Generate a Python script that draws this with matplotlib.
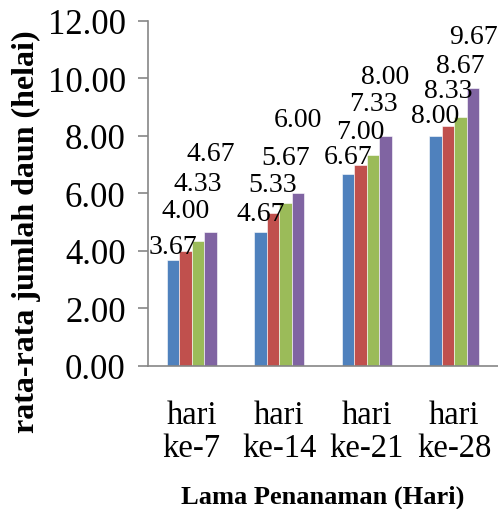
import numpy as np
import matplotlib.pyplot as plt

plt.rcParams['font.family'] = ['Liberation Serif', 'DejaVu Serif']

# data
categories = ["hari\nke-7", "hari\nke-14", "hari\nke-21", "hari\nke-28"]
series_1 = [3.67, 4.67, 6.67, 8.00]
series_2 = [4.00, 5.33, 7.00, 8.33]
series_3 = [4.33, 5.67, 7.33, 8.67]
series_4 = [4.67, 6.00, 8.00, 9.67]
yticks = [0, 2, 4, 6, 8, 10, 12]

colors = ['#4F81BD', '#C0504D', '#9BBB59', '#8064A2']
# label lift above each bar (points), moved by hand in the original
label_lift = [[9, 12, 12, 14],
              [28, 19, 23, 25],
              [41, 32, 36, 36],
              [55, 52, 42, 36]]

fig = plt.figure(figsize=(4.98, 5.10), dpi=100)
ax = fig.add_axes([0.297, 0.2804, 0.703, 0.6766])

x = np.arange(len(categories))
w = 0.143
all_series = [series_1, series_2, series_3, series_4]
for i, vals in enumerate(all_series):
    pos = x + (i - 1.5) * w
    ax.bar(pos, vals, width=w, color=colors[i], edgecolor='white', linewidth=0.4, zorder=2)
    for j, (px, v) in enumerate(zip(pos, vals)):
        ax.annotate(f"{v:.2f}", (px, v), xytext=(0, label_lift[i][j] + 1),
                    textcoords='offset points', ha='center', va='center',
                    fontsize=20, zorder=3)

ax.set_xlim(-0.5, 3.5)
ax.set_ylim(0, 12)
ax.set_yticks(yticks)
ax.set_yticklabels([f"{t:.2f}" for t in yticks], fontsize=25)
ax.set_xticks(x)
ax.set_xticklabels(categories, fontsize=23.5, linespacing=1.1)
ax.tick_params(axis='x', length=0, pad=24)
ax.tick_params(axis='y', length=7, width=1.2, color='#868686', pad=9)

for s in ['top', 'right']:
    ax.spines[s].set_visible(False)
for s in ['left', 'bottom']:
    ax.spines[s].set_color('#868686')
    ax.spines[s].set_linewidth(1.2)

fig.text(0.054, 0.545, "rata-rata jumlah daun (helai)", rotation=90,
         ha='center', va='center', fontsize=23, fontweight='bold')
fig.text(0.648, 0.025, "Lama Penanaman (Hari)", ha='center', va='center',
         fontsize=19, fontweight='bold')

fig.savefig('out.png', dpi=100)
